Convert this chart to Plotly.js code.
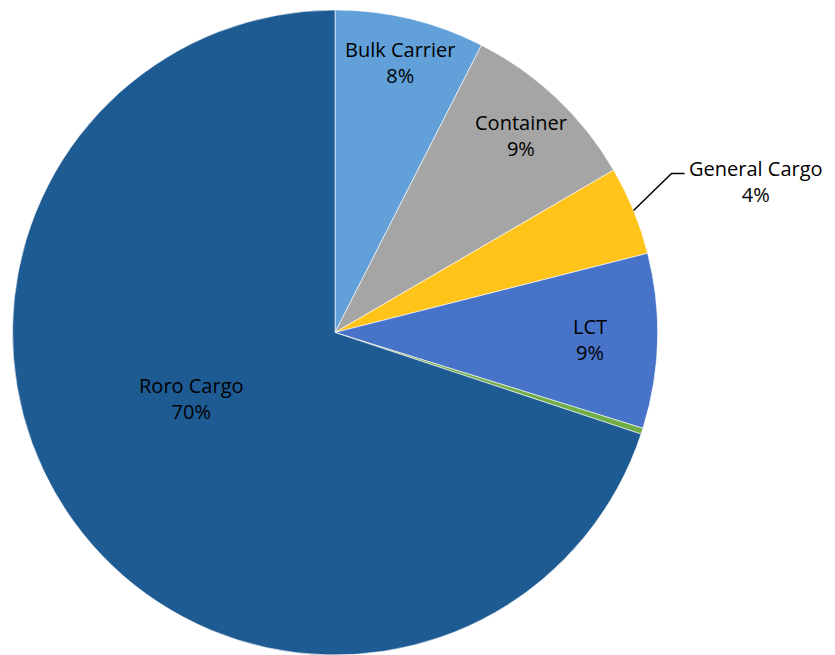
<!DOCTYPE html>
<html>
<head>
<meta charset="utf-8">
<script src="https://cdn.plot.ly/plotly-3.0.1.min.js"></script>
<style>
  html, body { margin: 0; padding: 0; background: #fff; }
  #chart { width: 835px; height: 655px; }
</style>
</head>
<body>
<div id="chart"></div>
<script>
// Data
const categories = ["Bulk Carrier", "Container", "General Cargo", "LCT", "Other", "Roro Cargo"];
const shares = [7.5, 9.1, 4.45, 8.75, 0.3, 69.9];

// Styling (not data)
const colors = ["#62a0da", "#a5a5a5", "#ffc31a", "#4773c8", "#70ad47", "#1f5b93"];
const labelMode = ["inside", "inside", "outside", "inside", "none", "inside"];
const labelRadius = [0.86, 0.84, 1.0, 0.79, 0, 0.49];
const labelAngleNudge = [0, 0, 0, 0, 0, 11];
const FONT = { family: "Open Sans, Noto Sans, sans-serif", size: 20, color: "#000000" };

const W = 835, H = 655;
const dom = { x: [12 / W, 658 / W], y: [0, 645 / H] };

const total = shares.reduce((a, b) => a + b, 0);

const trace = {
  type: "pie",
  labels: categories,
  values: shares,
  sort: false,
  direction: "clockwise",
  rotation: 0,
  marker: { colors: colors, line: { color: "#ffffff", width: 0.6 } },
  textinfo: "none",
  hoverinfo: "label+percent",
  domain: dom,
  showlegend: false
};

const cx = (dom.x[0] + dom.x[1]) / 2 * W;
const cyTop = H - (dom.y[0] + dom.y[1]) / 2 * H;
const R = Math.min((dom.x[1] - dom.x[0]) * W, (dom.y[1] - dom.y[0]) * H) / 2;
const toPX = x => x / W, toPY = y => 1 - y / H;

const annotations = [];
const shapes = [];
let cum = 0;
categories.forEach((c, i) => {
  const midFrac = (cum + shares[i] / 2) / total;
  cum += shares[i];
  const pct = Math.round(shares[i] / total * 100);
  const txt = c + "<br>" + pct + "%";
  const ang = (midFrac * 360 + labelAngleNudge[i]) * Math.PI / 180;
  if (labelMode[i] === "inside") {
    const r = R * labelRadius[i];
    annotations.push({
      xref: "paper", yref: "paper",
      x: toPX(cx + r * Math.sin(ang)), y: toPY(cyTop - r * Math.cos(ang)),
      xanchor: "center", yanchor: "middle",
      text: txt, showarrow: false, align: "center", font: FONT
    });
  } else if (labelMode[i] === "outside") {
    const ex = cx + R * Math.sin(ang), ey = cyTop - R * Math.cos(ang);
    const kx = ex + 38, ky = ey - 37, hx = kx + 13;
    shapes.push({
      type: "path", xref: "paper", yref: "paper",
      path: `M ${toPX(ex)} ${toPY(ey)} L ${toPX(kx)} ${toPY(ky)} L ${toPX(hx)} ${toPY(ky)}`,
      line: { color: "#000000", width: 1.5 }
    });
    annotations.push({
      xref: "paper", yref: "paper",
      x: toPX(hx + 2), y: toPY(ky + 8),
      xanchor: "left", yanchor: "middle",
      text: txt, showarrow: false, align: "center", font: FONT
    });
  }
});

const layout = {
  width: W, height: H,
  margin: { l: 0, r: 0, t: 0, b: 0 },
  paper_bgcolor: "#ffffff",
  showlegend: false,
  shapes: shapes,
  annotations: annotations
};

Plotly.newPlot("chart", [trace], layout, { displayModeBar: false, staticPlot: true });
</script>
</body>
</html>
